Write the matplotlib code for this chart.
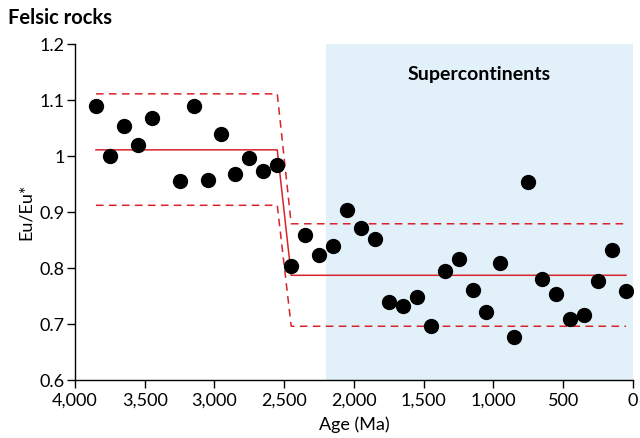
import matplotlib.pyplot as plt

plt.rcParams['font.family'] = ['Lato', 'DejaVu Sans']

# age (Ma) and Eu/Eu*
age = [3850, 3750, 3650, 3550, 3450, 3250, 3150, 3050, 2950, 2850, 2750, 2650, 2550,
       2450, 2350, 2250, 2150, 2050, 1950, 1850, 1750, 1650, 1550, 1450, 1350, 1250,
       1150, 1050, 950, 850, 750, 650, 550, 450, 350, 250, 150, 50]
eu = [1.089, 1.000, 1.054, 1.019, 1.068, 0.956, 1.089, 0.958, 1.040, 0.968, 0.996, 0.974, 0.984,
      0.803, 0.859, 0.823, 0.839, 0.904, 0.871, 0.851, 0.739, 0.733, 0.749, 0.696, 0.795, 0.816,
      0.760, 0.722, 0.809, 0.676, 0.953, 0.780, 0.754, 0.709, 0.716, 0.777, 0.832, 0.759]

# step fit (mean and +/- band)
fit_x = [3850, 2550, 2450, 50]
fit_mean = [1.011, 1.011, 0.787, 0.787]
fit_hi = [1.111, 1.111, 0.879, 0.879]
fit_lo = [0.912, 0.912, 0.696, 0.696]

super_start, super_end = 2200, 0

red = '#d9232b'

fig = plt.figure(figsize=(6.4, 4.38), dpi=100)
ax = fig.add_axes([0.1172, 0.1324, 0.8718, 0.7671])

ax.axvspan(super_start, super_end, ymin=0, ymax=1, color='#e2f1f9', lw=0, zorder=0)
ax.text(1100, 1.145, 'Supercontinents', ha='center', va='center', fontsize=14, fontweight='bold')

ax.plot(fit_x, fit_mean, color=red, lw=1.1, zorder=2)
ax.plot(fit_x, fit_hi, color=red, lw=1.1, ls=(0, (5, 3.5)), zorder=2)
ax.plot(fit_x, fit_lo, color=red, lw=1.1, ls=(0, (5, 3.5)), zorder=2)

ax.plot(age, eu, 'o', color='black', markersize=10, zorder=3)

ax.set_xlim(4000, 0)
ax.set_ylim(0.6, 1.2)
ax.set_xticks([4000, 3500, 3000, 2500, 2000, 1500, 1000, 500, 0])
ax.set_xticklabels(['4,000', '3,500', '3,000', '2,500', '2,000', '1,500', '1,000', '500', '0'])
ax.set_yticks([0.6, 0.7, 0.8, 0.9, 1.0, 1.1, 1.2])
ax.set_yticklabels(['0.6', '0.7', '0.8', '0.9', '1', '1.1', '1.2'])
ax.tick_params(direction='out', length=6, width=1, labelsize=13)
ax.tick_params(axis='x', pad=3)
ax.tick_params(axis='y', pad=1.5)

for s in ['top', 'right']:
    ax.spines[s].set_visible(False)
for s in ['left', 'bottom']:
    ax.spines[s].set_linewidth(1)

ax.set_xlabel('Age (Ma)', fontsize=13, labelpad=6)
ax.set_ylabel('Eu/Eu*', fontsize=13, labelpad=4)

fig.text(0.012, 0.96, 'Felsic rocks', fontsize=14.5, fontweight='bold', ha='left', va='center')

fig.savefig('out.png', dpi=100)
